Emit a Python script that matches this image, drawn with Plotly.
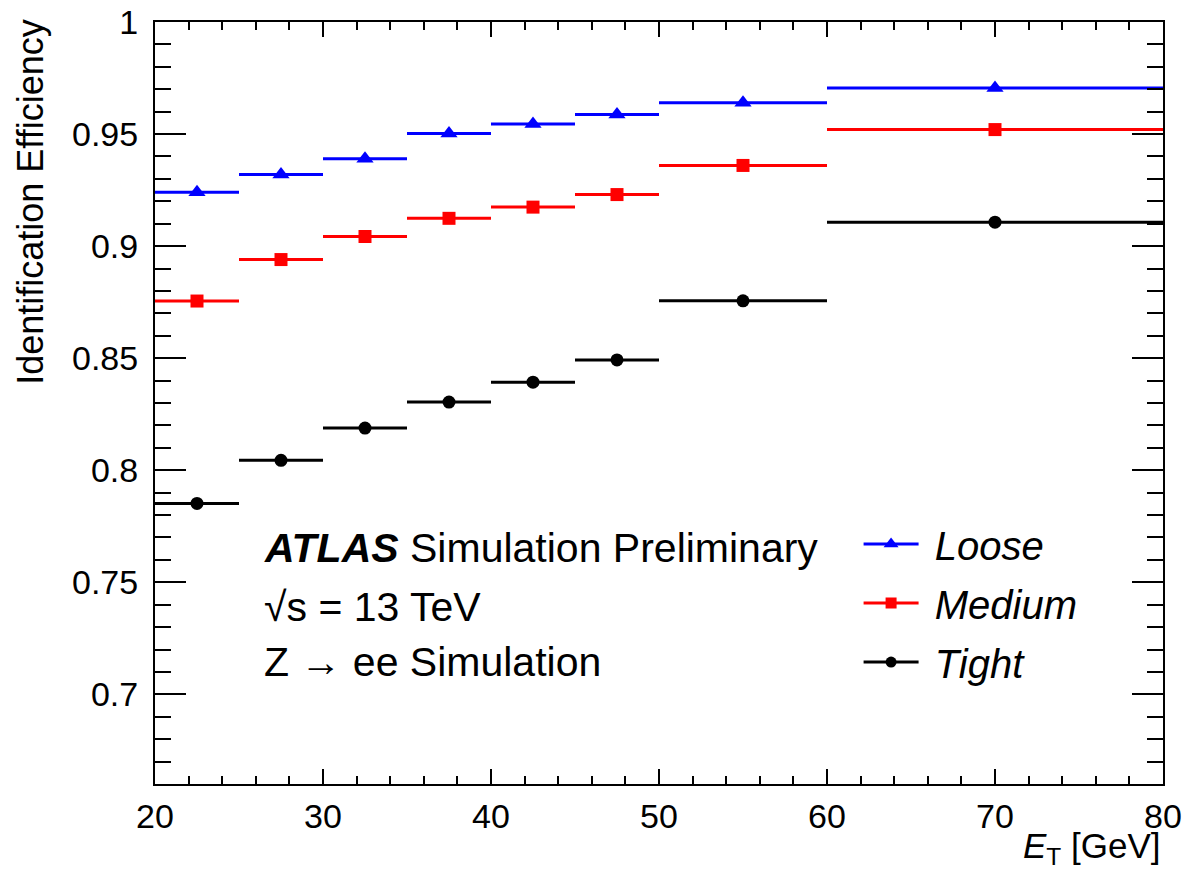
import plotly.graph_objects as go

bin_lo = [20, 25, 30, 35, 40, 45, 50, 60]
bin_hi = [25, 30, 35, 40, 45, 50, 60, 80]
loose = [0.924, 0.932, 0.939, 0.9502, 0.9545, 0.9587, 0.964, 0.9706]
medium = [0.8755, 0.894, 0.9043, 0.9124, 0.9174, 0.923, 0.936, 0.952]
tight = [0.7852, 0.8044, 0.8188, 0.8304, 0.8393, 0.8492, 0.8756, 0.9107]
ytick_vals = [0.7, 0.75, 0.8, 0.85, 0.9, 0.95, 1.0]
ytick_text = ["0.7", "0.75", "0.8", "0.85", "0.9", "0.95", "1"]

centers = [(a + b) / 2 for a, b in zip(bin_lo, bin_hi)]
halfw = [(b - a) / 2 for a, b in zip(bin_lo, bin_hi)]

series = [
    ("Loose", loose, "#0000ff", "triangle-up", 15),
    ("Medium", medium, "#ff0000", "square", 13),
    ("Tight", tight, "#000000", "circle", 13),
]

FONT = "Liberation Sans, Arial, Helvetica, sans-serif"
fig = go.Figure()
for name, vals, col, sym, sz in series:
    fig.add_trace(go.Scatter(
        x=centers, y=vals, mode="markers", showlegend=False,
        marker=dict(symbol=sym, size=sz, color=col, line=dict(width=0)),
        error_x=dict(type="data", array=halfw, symmetric=True, color=col, thickness=3, width=0),
    ))
for name, vals, col, sym, sz in series:
    fig.add_trace(go.Scatter(
        x=[None], y=[None], mode="lines+markers", name="\u00a0<i>%s</i>" % name,
        legendgroup=name,
        marker=dict(symbol=sym, size=sz - 2, color=col, line=dict(width=0)),
        line=dict(color=col, width=3),
    ))

axis_common = dict(
    showline=True, linecolor="black", linewidth=2, mirror="ticks",
    ticks="inside", tickcolor="black", tickwidth=2,
    showgrid=False, zeroline=False, automargin=False,
    tickfont=dict(family=FONT, size=34, color="black"),
)
fig.update_xaxes(range=[20, 80], dtick=10, tick0=20, ticklen=15,
                 minor=dict(dtick=2, ticks="inside", ticklen=8, tickcolor="black", tickwidth=2, showgrid=False),
                 ticklabelstandoff=1,
                 **axis_common)
fig.update_yaxes(range=[0.66, 1.0], tickvals=ytick_vals, ticktext=ytick_text, ticklen=31,
                 minor=dict(dtick=0.01, tick0=0.66, ticks="inside", ticklen=16, tickcolor="black", tickwidth=2, showgrid=False),
                 ticklabelstandoff=8,
                 **axis_common)

fig.update_layout(
    width=1183, height=872,
    margin=dict(l=155, r=20, t=22, b=88),
    paper_bgcolor="white", plot_bgcolor="white",
    font=dict(family=FONT, color="black"),
    legend=dict(x=0.698, y=0.3575, xanchor="left", yanchor="top",
                font=dict(family=FONT, size=40, color="black"),
                bgcolor="rgba(0,0,0,0)", itemwidth=55, tracegroupgap=4,
                traceorder="grouped"),
    annotations=[
        dict(text="<b><i>ATLAS</i></b> Simulation Preliminary", xref="paper", yref="paper",
             x=0.106, y=0.3097, xanchor="left", yanchor="middle", showarrow=False,
             font=dict(family=FONT, size=41, color="black")),
        dict(text="√s = 13 TeV", xref="paper", yref="paper",
             x=0.106, y=0.2323, xanchor="left", yanchor="middle", showarrow=False,
             font=dict(family=FONT, size=41, color="black")),
        dict(text="Z → ee Simulation", xref="paper", yref="paper",
             x=0.106, y=0.160, xanchor="left", yanchor="middle", showarrow=False,
             font=dict(family=FONT, size=41, color="black")),
        dict(text="<i>E</i><sub>T</sub> [GeV]", xref="paper", yref="paper",
             x=1.0, y=-0.053, xanchor="right", yanchor="top", showarrow=False,
             font=dict(family=FONT, size=35, color="black")),
        dict(text="Identification Efficiency", xref="paper", yref="paper",
             x=-0.146, y=0.7644, xanchor="left", yanchor="middle", textangle=-90, showarrow=False,
             font=dict(family=FONT, size=36, color="black")),
    ],
)
fig.write_html("out.html")
